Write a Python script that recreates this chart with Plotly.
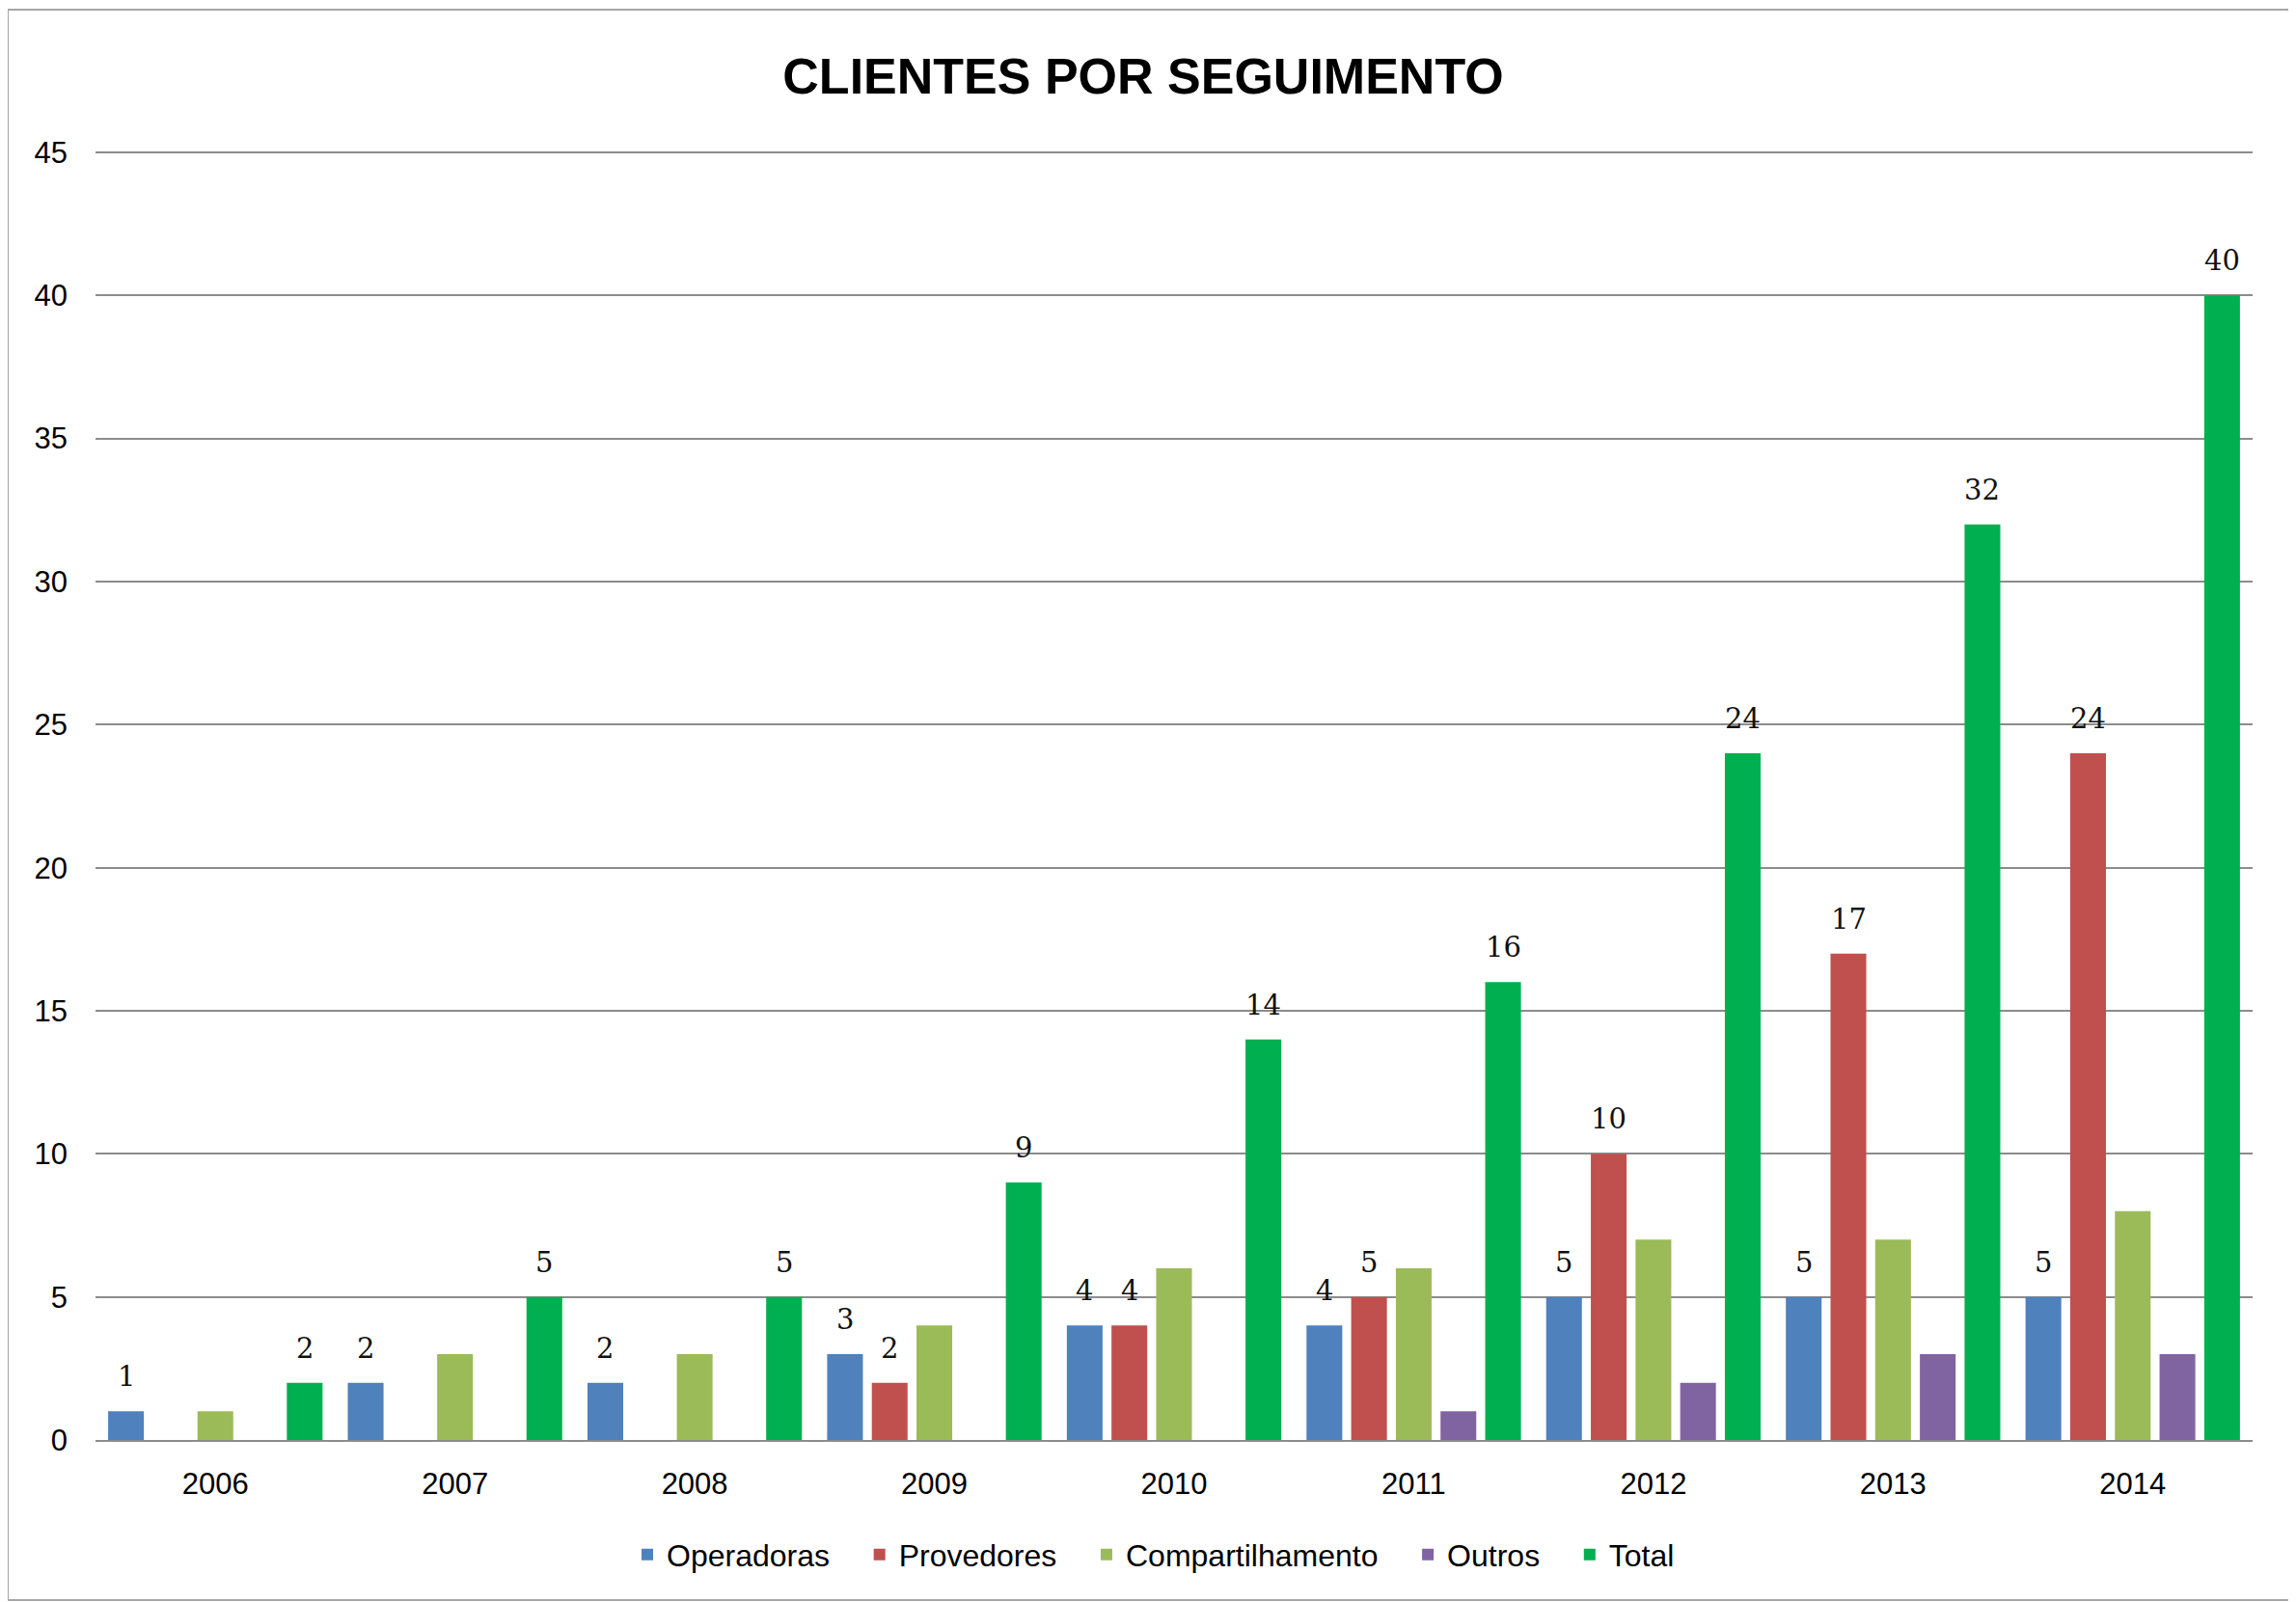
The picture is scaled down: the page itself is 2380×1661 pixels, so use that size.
import plotly.graph_objects as go

years = ["2006", "2007", "2008", "2009", "2010", "2011", "2012", "2013", "2014"]
operadoras = [1, 2, 2, 3, 4, 4, 5, 5, 5]
provedores = [0, 0, 0, 2, 4, 5, 10, 17, 24]
compartilhamento = [1, 3, 3, 4, 6, 6, 7, 7, 8]
outros = [0, 0, 0, 0, 0, 1, 2, 3, 3]
total = [2, 5, 5, 9, 14, 16, 24, 32, 40]

series_names = ["Operadoras", "Provedores", "Compartilhamento", "Outros", "Total"]
series_values = [operadoras, provedores, compartilhamento, outros, total]
series_colors = ["#4F81BD", "#C0504D", "#9BBB59", "#8064A2", "#00B050"]
labelled = [True, True, False, False, True]
y_ticks = [0, 5, 10, 15, 20, 25, 30, 35, 40, 45]

# page body has an 8px default margin; work in reference pixel coords and shift
OFF = 8
W, H = 2380 - OFF, 1661 - OFF
Y_MAX = 45.1
plot_left, plot_right = 99, 2335
plot_bottom = 1493
px_per_unit = (1493 - 158) / 45.0
plot_top = plot_bottom - Y_MAX * px_per_unit
L = plot_left - OFF
R = (2380 - OFF) - (plot_right - OFF)
T = plot_top - OFF
B = (1661 - OFF) - (plot_bottom - OFF)
BARGAP = 0.068
SANS = "Liberation Sans, Arial, sans-serif"
SERIF = "DejaVu Serif, Liberation Serif, serif"

fig = go.Figure()
n = len(series_names)
for k, (name, vals, col) in enumerate(zip(series_names, series_values, series_colors)):
    pad = "\u00a0\u00a0\u00a0" if k < n - 1 else ""
    fig.add_trace(go.Bar(name=name + pad, x=years, y=vals,
                         marker=dict(color=col, line=dict(width=0))))

annotations = []
pitch = (1 - BARGAP) / n
for k, (vals, lab) in enumerate(zip(series_values, labelled)):
    if not lab:
        continue
    for i, v in enumerate(vals):
        if v == 0:
            continue
        annotations.append(dict(
            x=i + (k - (n - 1) / 2) * pitch, y=v, xref="x", yref="y",
            text=str(v), showarrow=False, yanchor="bottom", yshift=17,
            font=dict(family=SERIF, size=29, color="#111111")))

pw = plot_right - plot_left
ph = plot_bottom - plot_top
def px_x(p):
    return (p - plot_left) / pw
def px_y(p):
    return (plot_bottom - p) / ph

fig.add_shape(type="rect", xref="paper", yref="paper",
              x0=px_x(8), x1=px_x(2373), y0=px_y(1659), y1=px_y(10),
              line=dict(color="#a6a6a6", width=2), fillcolor="rgba(0,0,0,0)", layer="below")

fig.update_layout(
    width=W, height=H,
    margin=dict(l=L, r=R, t=T, b=B),
    paper_bgcolor="white", plot_bgcolor="white",
    barmode="group", bargap=BARGAP, bargroupgap=0.2,
    title=dict(text="<b>CLIENTES POR SEGUIMENTO</b>", x=px_x(1185), xanchor="center",
               xref="paper", y=1 - (79 - OFF) / H, yanchor="middle",
               font=dict(family=SANS, size=52, color="#000000")),
    font=dict(family=SANS, size=31, color="#000000"),
    legend=dict(orientation="h", x=px_x(1196), xanchor="center", y=px_y(1612), yanchor="middle",
                font=dict(family=SANS, size=32, color="#000000"), traceorder="normal"),
    annotations=annotations,
)
fig.update_xaxes(showgrid=False, showline=True, linecolor="#8c8c8c", linewidth=2,
                 ticks="", ticklabelstandoff=17, tickfont=dict(family=SANS, size=31))
fig.update_yaxes(range=[0, Y_MAX], tickvals=y_ticks, showgrid=True, gridcolor="#8c8c8c", gridwidth=1.5,
                 zeroline=False, showline=False, ticks="", ticklabelstandoff=28,
                 tickfont=dict(family=SANS, size=31))

fig.write_html("out.html")
